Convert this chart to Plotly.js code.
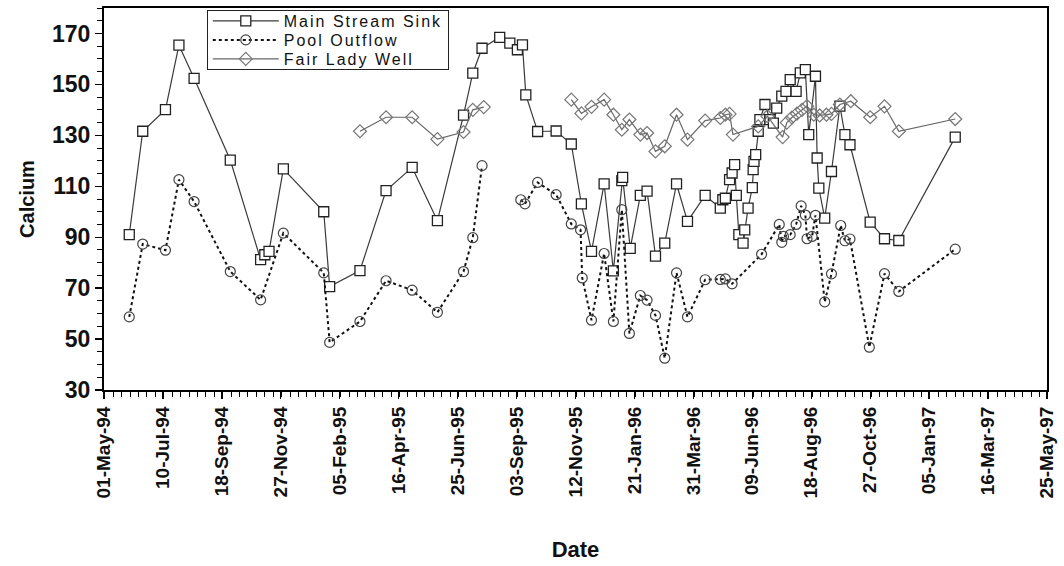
<!DOCTYPE html>
<html><head><meta charset="utf-8">
<script src="https://cdn.plot.ly/plotly-3.0.1.min.js"></script>
<style>html,body{margin:0;padding:0;background:#fff}#chart{width:1064px;height:566px}
.legendtext{letter-spacing:2px}</style>
</head><body><div id="chart"></div>
<script>
const seriesNames = ['Main Stream Sink', 'Pool Outflow', 'Fair Lady Well'];

const mainDates = ['1994-05-31','1994-06-16','1994-07-13','1994-07-29','1994-08-16','1994-09-28','1994-11-03','1994-11-08','1994-11-13','1994-11-30',
 '1995-01-17','1995-01-24','1995-03-01','1995-04-01','1995-05-02','1995-06-01','1995-07-02','1995-07-13','1995-07-24','1995-08-14',
 '1995-08-26','1995-09-04','1995-09-10','1995-09-14','1995-09-28','1995-10-20','1995-11-07','1995-11-19','1995-12-01','1995-12-16','1995-12-27',
 '1996-01-06','1996-01-07','1996-01-16','1996-01-28','1996-02-05','1996-02-15','1996-02-26','1996-03-11','1996-03-24','1996-04-14',
 '1996-05-02','1996-05-05','1996-05-08','1996-05-13','1996-05-16','1996-05-19','1996-05-21','1996-05-24','1996-05-29','1996-05-31',
 '1996-06-04','1996-06-09','1996-06-10','1996-06-11','1996-06-13','1996-06-16','1996-06-18','1996-06-24','1996-06-30',
 '1996-07-04','1996-07-08','1996-07-14','1996-07-19','1996-07-24','1996-07-31','1996-08-05','1996-08-11','1996-08-15','1996-08-23',
 '1996-08-25','1996-08-27','1996-09-03','1996-09-11','1996-09-21','1996-09-27','1996-10-03','1996-10-27','1996-11-13','1996-11-30','1997-02-05'];
const mainCalcium = [91,131.6,140.1,165.4,152.4,120.3,81.2,83.1,84.4,116.8,
 100,70.6,76.9,108.3,117.4,96.5,137.9,154.4,164.2,168.5,
 166.2,163.6,165.5,145.9,131.5,131.7,126.6,103.1,84.4,110.9,76.8,
 112.2,113.5,85.6,106.4,108.1,82.6,87.7,110.9,96.2,106.4,
 101.4,104.7,105.3,112.6,115.2,118.5,106.4,91,87.7,92.9,
 101.4,109.5,116.5,119.8,122.4,131.6,136.2,142.1,136.2,
 134.8,140.7,145.4,147.3,151.9,147.3,154.5,155.8,130.3,153.2,
 121.1,109.3,97.5,115.8,141.5,130.3,126.3,95.9,89.4,88.7,129.3];

const poolDates = ['1994-05-31','1994-06-16','1994-07-13','1994-07-29','1994-08-16','1994-09-28','1994-11-03','1994-11-30',
 '1995-01-17','1995-01-24','1995-03-01','1995-04-01','1995-05-02','1995-06-01','1995-07-02','1995-07-13','1995-07-24','1995-08-14',
 '1995-09-08','1995-09-13','1995-09-28','1995-10-20','1995-11-07','1995-11-18','1995-11-20','1995-12-01','1995-12-16','1995-12-27',
 '1996-01-06','1996-01-15','1996-01-28','1996-02-05','1996-02-15','1996-02-26','1996-03-11','1996-03-24','1996-04-14','1996-05-02',
 '1996-05-08','1996-05-16','1996-06-20','1996-07-11','1996-07-14','1996-07-16','1996-07-24','1996-07-31','1996-08-06','1996-08-11',
 '1996-08-13','1996-08-19','1996-08-23','1996-09-03','1996-09-11','1996-09-22','1996-09-27','1996-10-03','1996-10-26','1996-11-13',
 '1996-11-30','1997-02-05'];
const poolCalcium = [58.7,87.3,84.9,112.6,104.0,76.5,65.4,91.6,
 76.0,48.7,56.9,72.9,69.2,60.5,76.5,89.8,118.1,null,
 104.7,103.1,111.5,106.7,95.2,92.9,74.0,57.4,83.6,56.9,
 100.8,52.2,67.1,65.3,59.3,42.5,76.0,58.7,73.3,73.4,
 73.6,71.7,83.3,95.0,88.0,90.3,91.0,95.0,102.3,98.7,
 89.4,90.3,98.6,64.6,75.6,94.6,88.6,89.3,46.8,75.7,
 68.7,85.3];

const wellDates = ['1995-03-01','1995-04-01','1995-05-02','1995-06-01','1995-07-02','1995-07-13','1995-07-26','1995-09-04',
 '1995-11-07','1995-11-19','1995-12-01','1995-12-16','1995-12-27',
 '1996-01-06','1996-01-15','1996-01-28','1996-02-05','1996-02-15','1996-02-26','1996-03-11','1996-03-24','1996-04-14','1996-05-02',
 '1996-05-08','1996-05-13','1996-05-17','1996-06-16','1996-06-27','1996-07-15','1996-07-20','1996-07-26','1996-08-01','1996-08-07',
 '1996-08-13','1996-08-21','1996-08-28','1996-09-05','1996-09-11','1996-09-21','1996-10-04','1996-10-27','1996-11-13','1996-11-30','1997-02-05'];
const wellCalcium = [131.6,137.1,137.1,128.5,131.3,140.0,141.1,null,
 144.0,138.6,141.2,144.0,138.1,
 132.2,136.2,130.3,130.9,123.7,125.7,138.1,128.3,135.8,136.8,
 138.1,138.4,130.3,133.5,137.5,129.3,135.0,137.0,138.5,140.0,
 141.5,138.1,137.8,138.1,138.4,142.1,143.4,137.1,141.4,131.6,136.4];

const FONT = 'Liberation Sans, Arial, sans-serif';
const DAY = 86400000;

const traces = [
  {x: mainDates, y: mainCalcium, name: seriesNames[0], type: 'scatter', mode: 'lines+markers',
   line: {color: '#3a3a3a', width: 1.2},
   marker: {symbol: 'square', size: 10, color: '#ffffff', line: {color: '#222', width: 1.3}}},
  {x: poolDates, y: poolCalcium, name: seriesNames[1], type: 'scatter', mode: 'lines+markers',
   line: {color: '#111', width: 2, dash: 'dot'},
   marker: {symbol: 'circle-open', size: 10, color: '#444', line: {width: 1.2}}},
  {x: wellDates, y: wellCalcium, name: seriesNames[2], type: 'scatter', mode: 'lines+markers',
   line: {color: '#666', width: 1.2},
   marker: {symbol: 'diamond-open', size: 10, color: '#777', line: {width: 1.2}}}
];

const layout = {
  width: 1064, height: 566,
  paper_bgcolor: '#fff', plot_bgcolor: '#fff',
  margin: {l: 104, r: 17, t: 8, b: 176},
  font: {family: FONT, color: '#111'},
  showlegend: true,
  legend: {x: 0.109, y: 0.995, xanchor: 'left', yanchor: 'top', bgcolor: '#fff',
    bordercolor: '#222', borderwidth: 1, itemwidth: 66, tracegroupgap: 0,
    font: {family: FONT, size: 16, color: '#111'}},
  xaxis: {
    type: 'date', range: ['1994-05-01', '1997-05-25'],
    tick0: '1994-05-01', dtick: 70 * DAY, tickformat: '%d-%b-%y', tickangle: -90,
    ticks: 'outside', ticklen: 7, tickwidth: 1.3, tickcolor: '#000',
    showline: true, linecolor: '#000', linewidth: 2, mirror: true,
    showgrid: false, zeroline: false,
    minor: {dtick: 10 * DAY, ticks: 'outside', ticklen: 5, tickwidth: 1, tickcolor: '#000', showgrid: false},
    tickfont: {family: FONT, size: 19, color: '#111', weight: 'bold'},
    title: {text: 'Date', font: {family: FONT, size: 22, color: '#111', weight: 'bold'}, standoff: 44}
  },
  yaxis: {
    range: [30, 180], tick0: 30, dtick: 20,
    ticks: 'outside', ticklen: 7, tickwidth: 1.3, tickcolor: '#000',
    showline: true, linecolor: '#000', linewidth: 2, mirror: true,
    showgrid: false, zeroline: false,
    minor: {dtick: 5, ticks: 'outside', ticklen: 5, tickwidth: 1, tickcolor: '#000', showgrid: false},
    tickfont: {family: FONT, size: 23, color: '#111', weight: 'bold'},
    title: {text: 'Calcium', font: {family: FONT, size: 20, color: '#111', weight: 'bold'}, standoff: 12}
  }
};

const gd = document.getElementById('chart');
Plotly.newPlot(gd, traces, layout, {staticPlot: true, displayModeBar: false}).then(function () {
  // compact legend rows, as in the original figure
  const items = gd.querySelectorAll('.legend .traces');
  const rowGap = 19, firstY = 11;
  items.forEach(function (g, i) {
    const m = /translate\(\s*([-\d.]+)[ ,]+([-\d.]+)\s*\)/.exec(g.getAttribute('transform') || '');
    if (!m) return;
    g.setAttribute('transform', 'translate(' + m[1] + ',' + (firstY + i * rowGap) + ')');
  });
  const bg = gd.querySelector('.legend .bg');
  if (bg && items.length) bg.setAttribute('height', firstY + (items.length - 1) * rowGap + 10);
});
</script>
</body></html>
